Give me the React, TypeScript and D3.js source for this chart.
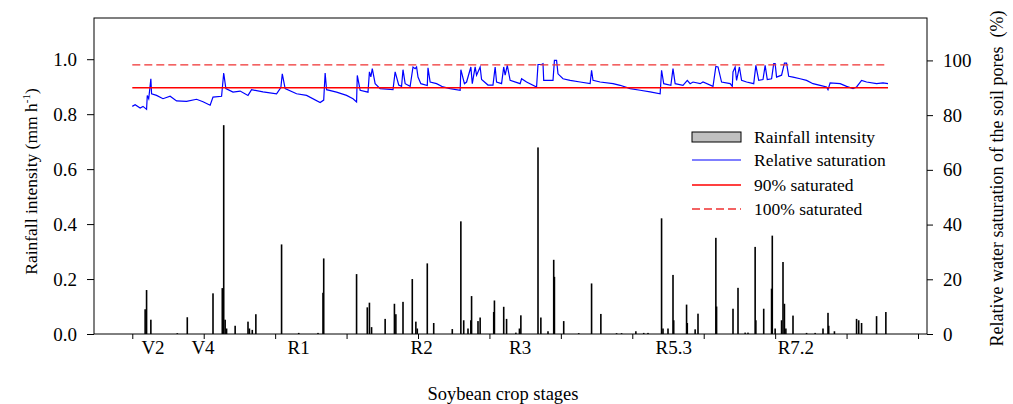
import React, { useEffect, useRef } from 'react';
import * as d3 from 'd3';

// days after the first tick (ticks every 10 days)
const dayTicks = [0, 10, 20, 30, 40, 50, 60, 70, 80, 90, 100, 110];
const stageLabels = ['V2', 'V4', 'R1', 'R2', 'R3', 'R5.3', 'R7.2'];
const stageDays = [2.9, 9.9, 23.3, 40.5, 54.3, 75.8, 92.9];

const leftTicks = [0, 0.2, 0.4, 0.6, 0.8, 1.0];
const rightTicks = [0, 20, 40, 60, 80, 100];

// rainfall intensity (mm h-1)
const rainDays = [
  1.8, 2.0, 2.6, 6.3, 7.7, 11.3, 12.6, 12.8, 13.0, 13.2, 14.4, 16.2, 16.4, 16.8, 17.3,
  20.9, 23.3, 26.0, 26.7, 26.8, 31.4, 32.9, 33.2, 33.5, 35.4, 36.7, 36.9, 37.9, 39.2,
  39.7, 39.9, 41.3, 42.2, 44.8, 46.0, 46.4, 47.0, 47.4, 47.5, 48.4, 48.7, 50.6, 50.7,
  52.0, 52.4, 53.7, 54.2, 54.4, 56.8, 57.2, 58.2, 59.0, 59.1, 60.4, 62.5, 64.3, 65.6,
  67.8, 68.5, 70.5, 71.6, 72.2, 74.1, 74.3, 75.0, 75.7, 75.8, 77.6, 77.7, 78.8, 79.2,
  81.7, 81.8, 84.1, 84.8, 85.8, 86.2, 87.2, 87.3, 88.4, 89.5, 89.6, 90.0, 90.9, 91.1,
  91.3, 91.5, 92.5, 94.4, 95.6, 96.7, 97.4, 97.5, 98.3, 101.4, 101.7, 102.1, 104.2, 105.5,
];
const rainValues = [
  0.09, 0.16, 0.052, 0.003, 0.061, 0.148, 0.167, 0.76, 0.052, 0.02, 0.03, 0.045, 0.02, 0.015, 0.072,
  0.326, 0.004, 0.004, 0.15, 0.275, 0.218, 0.097, 0.114, 0.025, 0.055, 0.11, 0.072, 0.117, 0.2,
  0.045, 0.02, 0.257, 0.04, 0.018, 0.41, 0.05, 0.02, 0.05, 0.138, 0.047, 0.06, 0.08, 0.122,
  0.099, 0.055, 0.005, 0.02, 0.068, 0.679, 0.06, 0.01, 0.27, 0.208, 0.047, 0.003, 0.184, 0.073,
  0.003, 0.003, 0.01, 0.004, 0.004, 0.421, 0.02, 0.02, 0.215, 0.05, 0.107, 0.04, 0.017, 0.074,
  0.35, 0.1, 0.092, 0.168, 0.005, 0.005, 0.317, 0.05, 0.092, 0.165, 0.358, 0.02, 0.05, 0.262,
  0.11, 0.02, 0.067, 0.004, 0.004, 0.02, 0.077, 0.03, 0.01, 0.055, 0.05, 0.04, 0.065, 0.08,
];

// relative saturation of soil pores (%)
const satDays = [
  0.0, 0.4, 1.1, 1.5, 2.0, 2.1, 2.3, 2.6, 2.7, 3.4, 4.3, 5.3, 6.2, 7.6, 9.0, 9.9, 10.9, 11.3,
  12.5, 12.8, 13.1, 14.1, 15.1, 16.2, 16.7, 18.3, 20.2, 20.8, 21.0, 21.4, 23.0, 24.4, 26.3,
  26.8, 27.0, 27.2, 28.6, 30.0, 30.9, 31.4, 31.5, 31.9, 33.0, 33.2, 33.4, 33.6, 34.0, 34.7,
  36.5, 36.8, 37.3, 37.7, 37.9, 38.2, 38.9, 39.3, 39.6, 39.8, 40.0, 40.4, 41.3, 41.4, 41.7,
  42.6, 43.5, 44.5, 45.9, 46.0, 46.5, 46.8, 47.4, 47.6, 48.0, 48.2, 48.7, 48.9, 49.8, 50.5,
  50.8, 51.0, 51.7, 52.0, 52.2, 52.5, 52.9, 54.3, 54.5, 55.2, 56.6, 56.8, 57.3, 57.5, 57.6,
  58.9, 59.1, 59.4, 59.6, 60.3, 61.3, 62.7, 64.1, 64.3, 64.5, 65.5, 67.3, 68.3, 69.7, 71.1,
  72.5, 73.9, 74.1, 74.4, 75.4, 75.7, 76.0, 77.1, 77.7, 78.1, 78.5, 79.5, 79.9, 81.3, 81.7,
  82.0, 82.5, 83.7, 84.0, 84.1, 84.4, 84.6, 85.0, 85.3, 86.0, 87.0, 87.3, 87.7, 88.3, 88.6,
  88.9, 89.5, 89.8, 90.0, 90.2, 90.9, 91.3, 91.6, 91.9, 92.5, 93.5, 94.4, 95.3, 96.3, 97.2,
  97.4, 97.7, 99.1, 100.0, 100.9, 101.4, 102.1, 102.8, 104.2, 105.1, 105.8,
];
const satValues = [
  83.2, 83.8, 82.6, 83.2, 82.1, 87.2, 86.0, 93.3, 87.8, 87.2, 86.0, 86.9, 85.2, 85.0, 85.8, 84.9, 83.6, 86.6,
  86.9, 95.4, 89.7, 88.4, 88.8, 87.2, 89.3, 88.5, 87.8, 90.1, 95.1, 89.7, 87.8, 87.2, 84.6,
  85.5, 95.4, 89.3, 88.4, 87.2, 86.0, 84.8, 94.5, 89.1, 88.4, 95.8, 94.0, 97.0, 91.5, 89.7,
  89.3, 95.8, 91.0, 90.5, 96.6, 91.5, 90.5, 97.6, 97.0, 97.6, 93.9, 91.5, 90.8, 97.3, 92.1,
  91.5, 90.3, 89.7, 89.1, 96.6, 91.5, 92.1, 97.6, 91.5, 97.6, 94.6, 97.6, 93.0, 91.0, 91.0,
  97.6, 92.1, 91.5, 97.6, 94.6, 98.2, 92.7, 91.5, 93.3, 92.1, 90.3, 98.5, 98.5, 98.8, 92.7,
  92.7, 100.0, 100.0, 95.1, 93.3, 92.7, 92.1, 91.5, 96.4, 92.7, 92.1, 91.5, 90.9, 89.7, 89.1,
  88.5, 87.8, 96.4, 91.5, 90.9, 97.0, 91.5, 90.9, 92.7, 91.5, 92.1, 91.5, 92.1, 90.5, 97.8,
  97.6, 92.1, 91.5, 90.5, 95.8, 97.6, 92.7, 97.6, 92.7, 92.1, 91.5, 98.2, 92.7, 93.0, 98.2,
  93.0, 93.3, 98.8, 98.8, 93.9, 94.6, 99.0, 99.0, 94.2, 93.9, 93.3, 92.7, 91.5, 90.9, 90.3,
  89.3, 91.8, 91.5, 90.5, 89.7, 90.3, 92.7, 92.1, 91.5, 91.8, 91.5,
];

const sat90 = 90;
const sat100 = 98.4;

const legendLabels = ['Rainfall intensity', 'Relative saturation', '90% saturated', '100% saturated'];

const FONT = "'Liberation Serif', 'DejaVu Serif', serif";

const App = () => {
  const svgRef = useRef<SVGSVGElement>(null);

  useEffect(() => {
    const svg = d3.select(svgRef.current);
    svg.selectAll('*').remove();

    const left = 94, right = 927, top = 18, bottom = 334;

    const x = d3.scaleLinear().domain([-5.36, 111.26]).range([left, right]);
    const yL = d3.scaleLinear().domain([0, 1.15]).range([bottom, top]);
    const yR = d3.scaleLinear().domain([0, 115.5]).range([bottom, top]);

    // rainfall bars
    svg.append('g')
      .selectAll('rect')
      .data(rainDays.map((d, i) => ({ d, v: rainValues[i] })))
      .enter()
      .append('rect')
      .attr('x', p => x(p.d) - 0.8)
      .attr('width', 1.6)
      .attr('y', p => yL(p.v))
      .attr('height', p => yL(0) - yL(p.v))
      .attr('fill', '#000');

    // saturation line
    const line = d3.line<number>()
      .x((_, i) => x(satDays[i]))
      .y(v => yR(v));

    svg.append('path')
      .datum(satValues)
      .attr('d', line)
      .attr('fill', 'none')
      .attr('stroke', '#0000ff')
      .attr('stroke-width', 1.2);

    const xStart = x(satDays[0]);
    const xEnd = x(satDays[satDays.length - 1]);

    svg.append('line')
      .attr('x1', xStart).attr('x2', xEnd)
      .attr('y1', yR(sat90)).attr('y2', yR(sat90))
      .attr('stroke', '#ff0000')
      .attr('stroke-width', 1.6);

    svg.append('line')
      .attr('x1', xStart).attr('x2', xEnd)
      .attr('y1', yR(sat100)).attr('y2', yR(sat100))
      .attr('stroke', '#f03030')
      .attr('stroke-width', 1.3)
      .attr('stroke-dasharray', '8,4');

    // frame
    svg.append('rect')
      .attr('x', left).attr('y', top)
      .attr('width', right - left).attr('height', bottom - top)
      .attr('fill', 'none')
      .attr('stroke', '#000')
      .attr('stroke-width', 1);

    // axes
    const leftAxis = svg.append('g')
      .attr('transform', `translate(${left},0)`)
      .call(d3.axisLeft(yL).tickValues(leftTicks).tickSize(7).tickPadding(10).tickFormat(d3.format('.1f')));
    const rightAxis = svg.append('g')
      .attr('transform', `translate(${right},0)`)
      .call(d3.axisRight(yR).tickValues(rightTicks).tickSize(6).tickPadding(10).tickFormat(d3.format('d')));
    const bottomAxis = svg.append('g')
      .attr('transform', `translate(0,${bottom})`)
      .call(d3.axisBottom(x).tickValues(dayTicks).tickSize(5).tickFormat(() => ''));

    [leftAxis, rightAxis, bottomAxis].forEach(a => {
      a.select('.domain').remove();
      a.attr('font-family', null).attr('font-size', null);
      a.selectAll('text')
        .attr('fill', '#000')
        .style('font-family', FONT)
        .style('font-size', '19px');
    });

    // crop stage labels
    svg.append('g')
      .selectAll('text')
      .data(stageLabels)
      .enter()
      .append('text')
      .attr('x', (_, i) => x(stageDays[i]))
      .attr('y', 354)
      .attr('text-anchor', 'middle')
      .style('font-family', FONT)
      .style('font-size', '19px')
      .text(d => d);

    // axis titles
    svg.append('text')
      .attr('x', 503)
      .attr('y', 400)
      .attr('text-anchor', 'middle')
      .style('font-family', FONT)
      .style('font-size', '18.5px')
      .text('Soybean crop stages');

    const lt = svg.append('text')
      .attr('transform', 'translate(37,181.5) rotate(-90)')
      .attr('text-anchor', 'middle')
      .style('font-family', FONT)
      .style('font-size', '17.5px');
    lt.append('tspan').text('Rainfall intensity (mm h');
    lt.append('tspan').style('font-size', '11px').attr('dy', -7).text('-1');
    lt.append('tspan').attr('dy', 7).text(')');

    svg.append('text')
      .attr('transform', 'translate(1003,178.5) rotate(-90)')
      .attr('text-anchor', 'middle')
      .style('font-family', FONT)
      .style('font-size', '18px')
      .text('Relative water saturation of the soil pores\u00a0\u00a0(%)');

    // legend
    const lg = svg.append('g');
    const rowY = [137, 160, 185, 209];
    lg.append('rect')
      .attr('x', 692).attr('y', rowY[0] - 5)
      .attr('width', 49).attr('height', 10)
      .attr('fill', '#c0c0c0').attr('stroke', '#000').attr('stroke-width', 1);
    const styles = [
      { c: '#0000ff', w: 1.2, dash: null },
      { c: '#ff0000', w: 1.6, dash: null },
      { c: '#f03030', w: 1.3, dash: '8,4' },
    ];
    styles.forEach((s, i) => {
      const l = lg.append('line')
        .attr('x1', 692).attr('x2', 741)
        .attr('y1', rowY[i + 1]).attr('y2', rowY[i + 1])
        .attr('stroke', s.c).attr('stroke-width', s.w);
      if (s.dash) l.attr('stroke-dasharray', s.dash);
    });
    legendLabels.forEach((t, i) => {
      lg.append('text')
        .attr('x', 754)
        .attr('y', rowY[i] + 6)
        .style('font-family', FONT)
        .style('font-size', '17.5px')
        .text(t);
    });
  }, []);

  return (
    <div>
      <svg
        ref={svgRef}
        width={1013}
        height={404}
        style={{ position: 'absolute', left: 0, top: 0, background: '#fff' }}
      />
    </div>
  );
};

export default App;
